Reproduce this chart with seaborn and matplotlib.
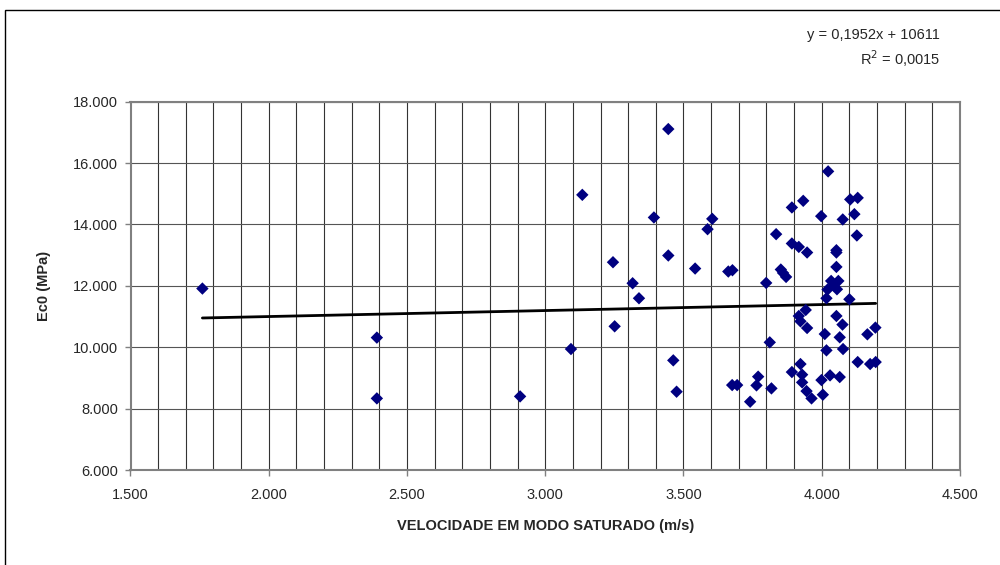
import numpy as np
import pandas as pd
import seaborn as sns
import matplotlib.pyplot as plt
from matplotlib.ticker import MultipleLocator, FuncFormatter
from matplotlib.patches import Rectangle

# velocidade (m/s) e Ec0 (MPa)
velocidade = [1760, 2391, 2391, 2909, 3093, 3134, 3245, 3251, 3316, 3339,
              3393, 3445, 3445, 3463, 3475, 3542, 3587, 3604, 3662, 3677,
              3676, 3694, 3741, 3764, 3770, 3799, 3812, 3818, 3835, 3852,
              3860, 3871, 3892, 3892, 3892, 3917, 3917, 3923, 3923, 3929,
              3929, 3933, 3942, 3945, 3947, 3947, 3963, 3998, 3999, 4004,
              4011, 4017, 4017, 4021, 4023, 4030, 4034, 4043, 4053, 4053,
              4053, 4053, 4055, 4060, 4065, 4065, 4075, 4076, 4077, 4100,
              4103, 4118, 4127, 4130, 4130, 4165, 4175, 4194, 4195]
ec0 = [11913, 10315, 8335, 8400, 9943, 14966, 12771, 10683, 12086, 11597,
       14229, 17109, 12990, 9574, 8553, 12565, 13847, 14184, 12468, 12510,
       8769, 8769, 8227, 8759, 9043, 12096, 10161, 8661, 13685, 12533,
       12422, 12292, 14555, 13381, 9193, 13270, 11019, 10846, 9454, 9108,
       8857, 14771, 11215, 8573, 13087, 10628, 8335, 14271, 8932, 8455,
       10432, 11597, 9900, 11880, 15730, 9085, 12161, 12021, 13162, 13087,
       12618, 11019, 11890, 12161, 10325, 9030, 10739, 14164, 9943, 11564,
       14816, 14337, 13642, 14868, 9519, 10422, 9454, 10641, 9519]

# linha de tendencia do Excel
slope = 0.1952
intercept = 10611

df = pd.DataFrame({"vel": velocidade, "ec0": ec0})

sns.set_style("white")
plt.rcParams["font.family"] = ["Liberation Sans", "DejaVu Sans"]

fig = plt.figure(figsize=(10, 5.65), dpi=100)
ax = fig.add_axes([0.1305, 0.168, 0.8295, 0.652])

xs = np.array([min(velocidade), max(velocidade)])
ax.plot(xs, slope * xs + intercept, color="black", lw=2, zorder=3)
sns.scatterplot(data=df, x="vel", y="ec0", marker="D", color="#000080",
                s=40, edgecolor="none", ax=ax, zorder=4)

ax.set_xlim(1500, 4500)
ax.set_ylim(6000, 18000)
ax.xaxis.set_major_locator(MultipleLocator(500))
ax.xaxis.set_minor_locator(MultipleLocator(100))
ax.yaxis.set_major_locator(MultipleLocator(2000))
fmt = FuncFormatter(lambda v, p: f"{v:,.0f}".replace(",", "."))
ax.xaxis.set_major_formatter(fmt)
ax.yaxis.set_major_formatter(fmt)

ax.grid(True, which="both", axis="x", color="#333333", lw=0.8)
ax.grid(True, which="major", axis="y", color="#555555", lw=0.8)
ax.set_axisbelow(True)
for s in ax.spines.values():
    s.set_color("#808080")
    s.set_linewidth(1.5)
ax.tick_params(axis="both", which="major", direction="out", length=4,
               width=1, color="#808080", labelsize=10.5)
ax.tick_params(axis="x", which="major", pad=9)
ax.tick_params(axis="y", which="major", pad=5)
ax.tick_params(axis="x", which="minor", length=0)
ax.tick_params(left=True, bottom=True)

ax.set_xlabel("VELOCIDADE EM MODO SATURADO (m/s)", fontsize=10.5,
              fontweight="bold", labelpad=12)
ax.set_ylabel("Ec0 (MPa)", fontsize=10.5, fontweight="bold", labelpad=16)

fig.text(0.94, 0.938, "y = 0,1952x + 10611", ha="right", va="center", fontsize=10.5)
fig.text(0.94, 0.897, "R$^2$ = 0,0015", ha="right", va="center", fontsize=10.5)

fig.add_artist(Rectangle((0.005, -0.05), 1.2, 0.041 + 0.991, transform=fig.transFigure,
                         fill=False, edgecolor="black", lw=1))

fig.savefig("out.png", dpi=100)
